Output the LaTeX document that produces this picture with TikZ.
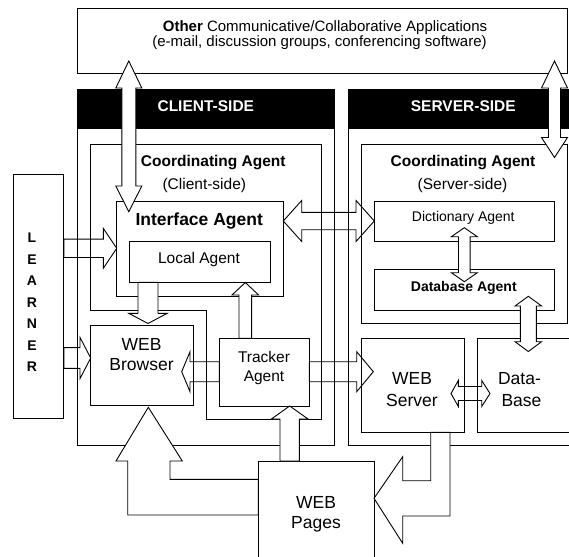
\documentclass[tikz,border=0pt]{standalone}
\usepackage{fontspec}
\setmainfont{Liberation Sans}
\begin{document}
\begin{tikzpicture}[x=1pt,y=-1pt,line width=0.9pt,
  bx/.style={draw, inner sep=0pt, outer sep=0pt, anchor=north west},
  hd/.style={fill=black, inner sep=0pt, outer sep=0pt, anchor=north west},
  blk/.style={draw, fill=white, line join=miter, miter limit=20},
  tx/.style={inner sep=0pt, anchor=base},
  fA/.style={font=\fontsize{15}{17}\selectfont},
  fB/.style={font=\fontsize{15.5}{18}\selectfont\bfseries},
  fC/.style={font=\fontsize{15.5}{18}\selectfont},
  fD/.style={font=\fontsize{17.5}{20}\selectfont\bfseries},
  fE/.style={font=\fontsize{14}{16}\selectfont},
  fF/.style={font=\fontsize{14}{16}\selectfont\bfseries},
  fG/.style={font=\fontsize{17.5}{20}\selectfont},
]
\useasboundingbox (0,0) rectangle (569,556);

% headers
\node[hd, minimum width=257.4pt, minimum height=40pt] (chead) at (77.3,89.3) {};
\node[hd, minimum width=221pt, minimum height=40pt] (shead) at (348.3,89.3) {};

% horizontal block arrows (lines pass over their shafts)
\draw[blk] (283.3,221) -- (301.7,200.5) -- (301.7,212.3) -- (356,212.3) -- (356,200.5) -- (374.3,221)
  -- (356,241.5) -- (356,229.7) -- (301.7,229.7) -- (301.7,241.5) -- cycle;
\draw[blk] (451,393.5) -- (458.3,380.5) -- (458.3,386.5) -- (481.7,386.5) -- (481.7,380.5) -- (490,393.5)
  -- (481.7,406.5) -- (481.7,400.5) -- (458.3,400.5) -- (458.3,406.5) -- cycle;
\draw[blk] (181.7,371.7) -- (190,351.7) -- (190,361.7) -- (219.3,361.7) -- (219.3,381.7) -- (190,381.7) -- (190,391.7) -- cycle;
\draw[blk] (309.3,361.7) -- (356.7,361.7) -- (356.7,351.7) -- (373.3,371.7) -- (356.7,391.7) -- (356.7,381.7) -- (309.3,381.7) -- cycle;
\draw[blk] (63.8,239.1) -- (103.3,239.1) -- (103.3,228.3) -- (116.7,248.3) -- (103.3,268.3) -- (103.3,257.5) -- (63.8,257.5) -- cycle;
\draw[blk] (63.8,347.6) -- (80,347.6) -- (80,337.4) -- (90.7,358) -- (80,378.6) -- (80,368.4) -- (63.8,368.4) -- cycle;

% panels and boxes
\node[bx, minimum width=490.4pt, minimum height=65pt] (other) at (77.3,8.3) {};
\node[bx, minimum width=257.4pt, minimum height=356.4pt] (client) at (77.3,89.3) {};
\node[bx, minimum width=221pt, minimum height=356.4pt] (server) at (348.3,89.3) {};
\draw (90.3,144.3) -- (321.7,144.3) -- (321.7,419) -- (206,419) -- (206,310) -- (90.3,310) -- cycle;
\node[bx, minimum width=206pt, minimum height=179.4pt] (coords) at (361.7,144.3) {};
\node[bx, minimum width=166.6pt, minimum height=95pt] (iface) at (116.7,201.7) {};
\node[bx, minimum width=141pt, minimum height=40.6pt] (local) at (129.3,241.7) {};
\node[bx, minimum width=179.7pt, minimum height=39.3pt] (dict) at (374.3,201.7) {};
\node[bx, minimum width=179.7pt, minimum height=40.7pt] (dbag) at (374.3,269.3) {};
\node[bx, minimum width=102.6pt, minimum height=80pt] (browser) at (90.7,325) {};
\node[bx, minimum width=90pt, minimum height=67.7pt] (tracker) at (219.3,338.3) {};
\node[bx, minimum width=102.5pt, minimum height=94pt] (wserver) at (361.5,338.3) {};
\node[bx, minimum width=100pt, minimum height=94pt] (dbase) at (477.3,338.3) {};
\node[bx, minimum width=115.7pt, minimum height=100pt] (pages) at (258.3,461) {};
\node[bx, minimum width=50.5pt, minimum height=244pt] (learner) at (13.3,174) {};

% vertical block arrows (drawn over lines)
\draw[blk] (128.8,61) -- (141.8,88) -- (135.8,88) -- (135.8,186) -- (141.8,186) -- (128.8,211.7)
  -- (115.8,186) -- (121.8,186) -- (121.8,88) -- (115.8,88) -- cycle;
\draw[blk] (554.5,61) -- (567.5,88) -- (560.5,88) -- (560.5,137.5) -- (567.5,137.5) -- (554.5,157.5)
  -- (541.5,137.5) -- (548.5,137.5) -- (548.5,88) -- (541.5,88) -- cycle;
\draw[blk] (464.3,227.7) -- (477.3,236.7) -- (470.1,236.7) -- (470.1,272.7) -- (477.3,272.7) -- (464.3,281.7)
  -- (451.3,272.7) -- (458.5,272.7) -- (458.5,236.7) -- (451.3,236.7) -- cycle;
\draw[blk] (528.3,296.3) -- (541.6,306) -- (536.3,306) -- (536.3,341.7) -- (541.6,341.7) -- (528.3,351.5)
  -- (515,341.7) -- (520.3,341.7) -- (520.3,306) -- (515,306) -- cycle;
\draw[blk] (138,282.3) -- (158,282.3) -- (158,313.3) -- (167.2,313.3) -- (148,323.5) -- (128.8,313.3) -- (138,313.3) -- cycle;
\draw[blk] (239,338.3) -- (239,295) -- (232,295) -- (245.3,282.5) -- (258.6,295) -- (251.6,295) -- (251.6,338.3) -- cycle;
\draw[blk] (280,461) -- (280,419) -- (271.4,419) -- (289.7,406) -- (308,419) -- (299.4,419) -- (299.4,461) -- cycle;
\draw[blk] (148.3,407.3) -- (182.3,461) -- (170,461) -- (170,479.3) -- (258.3,479.3) -- (258.3,515)
  -- (127.7,515) -- (127.7,461) -- (116,461) -- cycle;
\draw[blk] (430.7,432.3) -- (430.7,480.7) -- (402.7,480.7) -- (402.7,456.7) -- (374,498.3) -- (402.7,543.3)
  -- (402.7,516) -- (450,516) -- (450,432.3) -- cycle;

% texts
\node[tx, fA] (othA) at (325,31.5) {\textbf{Other} Communicative/Collaborative Applications};
\node[tx, fA] (othB) at (319.5,47) {(e-mail, discussion groups, conferencing software)};
\node[tx, fB, text=white] (clientT) at (205.8,111.7) {CLIENT-SIDE};
\node[tx, fB, text=white] (serverT) at (463.3,111.7) {SERVER-SIDE};
\node[tx, fB] (coordcA) at (213.3,166) {Coordinating Agent};
\node[tx, fC] (coordcB) at (204.3,189) {(Client-side)};
\node[tx, fB] (coordsA) at (463,166) {Coordinating Agent};
\node[tx, fC] (coordsB) at (462.5,189) {(Server-side)};
\node[tx, fD] (ifaceT) at (199.2,225) {Interface Agent};
\node[tx, fC] (localT) at (199,263) {Local Agent};
\node[tx, fE] (dictT) at (463.3,221.7) {Dictionary Agent};
\node[tx, fF] (dbagT) at (463.8,291) {Database Agent};
\node[tx, fG] (browA) at (141.5,350) {WEB};
\node[tx, fG] (browB) at (141.5,370) {Browser};
\node[tx, fC] (trackA) at (264,362.5) {Tracker};
\node[tx, fC] (trackB) at (264,381) {Agent};
\node[tx, fG] (wsA) at (412,384) {WEB};
\node[tx, fG] (wsB) at (412,406) {Server};
\node[tx, fG] (dbA) at (519.5,384) {Data-};
\node[tx, fG] (dbB) at (521.5,406.5) {Base};
\node[tx, fG] (pgA) at (316,508.3) {WEB};
\node[tx, fG] (pgB) at (316,528) {Pages};
\node[tx, fF] (lrn1) at (32,242.7) {L};
\node[tx, fF] (lrn2) at (32,264.2) {E};
\node[tx, fF] (lrn3) at (32,285.7) {A};
\node[tx, fF] (lrn4) at (32,307.2) {R};
\node[tx, fF] (lrn5) at (32,328.7) {N};
\node[tx, fF] (lrn6) at (32,350.2) {E};
\node[tx, fF] (lrn7) at (32,371.7) {R};
\end{tikzpicture}
\end{document}
